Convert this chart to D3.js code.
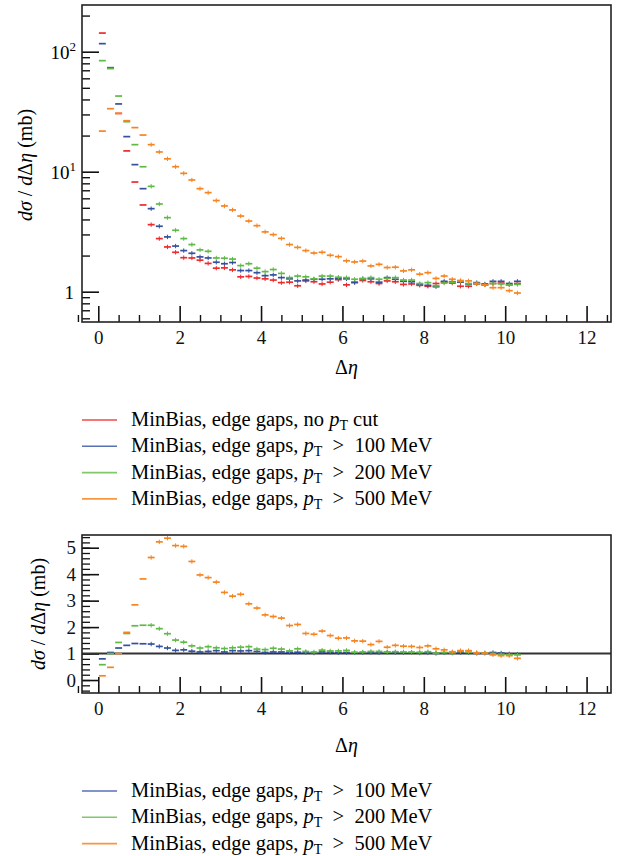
<!DOCTYPE html>
<html>
<head>
<meta charset="UTF-8">
<title>dsigma / d delta eta</title>
<script src="https://d3js.org/d3.v7.min.js"></script>
<style>
  body { margin: 0; background: #fff; }
</style>
</head>
<body>
<svg id="chart" width="631" height="856"></svg>
<script>
// bin centres in delta eta (bin width 0.2)
var etaBins = [0.1, 0.3, 0.5, 0.7, 0.9, 1.1, 1.3, 1.5, 1.7, 1.9, 2.1, 2.3, 2.5, 2.7, 2.9, 3.1, 3.3, 3.5, 3.7, 3.9,
  4.1, 4.3, 4.5, 4.7, 4.9, 5.1, 5.3, 5.5, 5.7, 5.9, 6.1, 6.3, 6.5, 6.7, 6.9, 7.1, 7.3, 7.5, 7.7, 7.9,
  8.1, 8.3, 8.5, 8.7, 8.9, 9.1, 9.3, 9.5, 9.7, 9.9, 10.1, 10.3];

// top panel: dsigma/d delta eta (mb)
var noCut = [143, 72.7, 30.6, 14.9, 8.2, 5.28, 3.62, 2.77, 2.36, 2.13, 1.92, 1.91, 1.83, 1.72, 1.57, 1.58, 1.52, 1.33, 1.34, 1.30,
  1.28, 1.25, 1.19, 1.20, 1.12, 1.23, 1.21, 1.16, 1.20, 1.26, 1.14, 1.20, 1.24, 1.21, 1.17, 1.23, 1.21, 1.15, 1.16, 1.13,
  1.11, 1.17, 1.20, 1.18, 1.11, 1.11, 1.16, 1.14, 1.17, 1.18, 1.14, 1.17];
var pt100 = [116.7, 73.6, 36.7, 19.6, 11.45, 7.22, 4.92, 3.51, 2.86, 2.40, 2.20, 2.09, 1.95, 1.91, 1.76, 1.71, 1.75, 1.50, 1.50, 1.44,
  1.36, 1.38, 1.31, 1.28, 1.23, 1.25, 1.27, 1.27, 1.28, 1.29, 1.28, 1.19, 1.28, 1.28, 1.20, 1.31, 1.27, 1.22, 1.21, 1.15,
  1.13, 1.10, 1.22, 1.21, 1.20, 1.16, 1.19, 1.16, 1.22, 1.22, 1.17, 1.22];
var pt200 = [84.2, 72.5, 42.7, 26.1, 16.8, 11.0, 7.55, 5.38, 4.14, 3.25, 2.77, 2.47, 2.23, 2.17, 1.91, 1.90, 1.87, 1.65, 1.71, 1.57,
  1.47, 1.53, 1.42, 1.31, 1.35, 1.33, 1.28, 1.35, 1.35, 1.32, 1.31, 1.27, 1.29, 1.31, 1.27, 1.29, 1.31, 1.25, 1.25, 1.17,
  1.19, 1.12, 1.18, 1.20, 1.22, 1.17, 1.17, 1.14, 1.17, 1.16, 1.14, 1.15];
var pt500 = [21.8, 33.5, 30.6, 26.6, 23.3, 20.2, 16.8, 14.6, 12.8, 11.0, 9.69, 8.53, 7.22, 6.69, 5.75, 5.18, 4.80, 4.27, 3.88, 3.55,
  3.15, 2.99, 2.78, 2.47, 2.34, 2.20, 2.10, 2.13, 2.01, 1.96, 1.81, 1.77, 1.80, 1.64, 1.69, 1.59, 1.60, 1.49, 1.52, 1.40,
  1.44, 1.29, 1.35, 1.27, 1.24, 1.23, 1.17, 1.14, 1.08, 1.08, 1.02, 0.975];

// bottom panel: ratio to the no-cut sample
var ratio100 = [0.80, 1.04, 1.21, 1.31, 1.38, 1.37, 1.36, 1.27, 1.21, 1.12, 1.14, 1.09, 1.06, 1.08, 1.11, 1.06, 1.11, 1.10, 1.11, 1.08,
  1.04, 1.06, 1.06, 1.05, 1.05, 1.04, 1.02, 1.06, 1.05, 1.03, 1.04, 1.03, 1.03, 1.04, 1.03, 1.05, 1.04, 1.03, 1.04, 1.02,
  1.03, 1.01, 1.03, 1.02, 1.04, 1.03, 1.01, 1.02, 1.04, 1.02, 0.99, 0.98];
var ratio200 = [0.58, 1.00, 1.42, 1.76, 2.05, 2.07, 2.07, 1.94, 1.75, 1.51, 1.43, 1.29, 1.21, 1.26, 1.22, 1.19, 1.22, 1.24, 1.26, 1.17,
  1.15, 1.20, 1.17, 1.10, 1.18, 1.08, 1.06, 1.13, 1.10, 1.10, 1.12, 1.05, 1.06, 1.08, 1.08, 1.05, 1.07, 1.06, 1.05, 1.05,
  1.07, 1.02, 1.04, 1.03, 1.08, 1.05, 1.03, 1.02, 1.00, 0.97, 0.95, 0.95];
var ratio500 = [0.16, 0.48, 1.00, 1.80, 2.84, 3.82, 4.63, 5.22, 5.36, 5.08, 5.05, 4.48, 3.97, 3.87, 3.70, 3.31, 3.17, 3.24, 2.88, 2.72,
  2.46, 2.40, 2.34, 2.06, 2.10, 1.76, 1.73, 1.85, 1.68, 1.58, 1.59, 1.48, 1.47, 1.34, 1.46, 1.24, 1.31, 1.28, 1.27, 1.23,
  1.29, 1.18, 1.14, 1.07, 1.11, 1.11, 1.03, 1.02, 0.95, 0.92, 0.92, 0.82];

var xMajor = [0, 2, 4, 6, 8, 10, 12];
var xMinor = [-0.5, 0.5, 1, 1.5, 2.5, 3, 3.5, 4.5, 5, 5.5, 6.5, 7, 7.5, 8.5, 9, 9.5, 10.5, 11, 11.5, 12.5];
var logMajor = [1, 10, 100];
var logMinor = [0.6, 0.7, 0.8, 0.9, 2, 3, 4, 5, 6, 7, 8, 9, 20, 30, 40, 50, 60, 70, 80, 90, 200];
var ratioMajor = [0, 1, 2, 3, 4, 5];

var legendTop = ["no cut", "100", "200", "500"];
var legendBottom = ["100", "200", "500"];

var colors = {"no cut": "#ee2a2a", "100": "#34519f", "200": "#5fba45", "500": "#f7841f"};
var legendColors = {"no cut": "#f04a4a", "100": "#5870b4", "200": "#80c86a", "500": "#f89640"};

var serif = "Liberation Serif";
var svg = d3.select("#chart").attr("font-family", serif);
var left = 82, right = 611;

var x = d3.scaleLinear().domain([-0.4, 12.6]).range([left, right]);

// ---------- top panel ----------
var top1 = 5, bot1 = 322;
var yTop = d3.scaleLog().domain([0.559, 245]).range([bot1, top1]);

// ---------- bottom panel ----------
var top2 = 535, bot2 = 693;
var yRatio = d3.scaleLinear().domain([-0.49, 5.48]).range([bot2, top2]);

function styleAxis(a, w) {
  a.attr("font-family", serif);
  a.select(".domain").remove();
  a.selectAll("line").attr("stroke", "#111").attr("stroke-width", w);
  a.selectAll("text").attr("font-size", 19).attr("fill", "#111").attr("font-family", serif);
}

function xAxes(g, yBottom) {
  g.append("g").attr("transform", "translate(0," + yBottom + ")")
    .call(d3.axisBottom(x).tickValues(xMajor).tickSize(-16).tickPadding(9).tickFormat(d3.format("d")))
    .call(styleAxis, 1.6);
  g.append("g").attr("transform", "translate(0," + yBottom + ")")
    .call(d3.axisBottom(x).tickValues(xMinor).tickSize(-7).tickFormat(""))
    .call(styleAxis, 1.4);
}

function frame(yT, yB) {
  svg.append("rect").attr("x", left).attr("y", yT).attr("width", right - left).attr("height", yB - yT)
    .attr("fill", "none").attr("stroke", "#222").attr("stroke-width", 1.6);
}

function drawSeries(g, y, values, color) {
  var pts = g.append("g").selectAll("g").data(etaBins.map(function (e, i) { return {eta: e, v: values[i]}; }))
    .enter().append("g");
  pts.append("line")
    .attr("x1", function (d) { return x(d.eta - 0.1) + 0.6; })
    .attr("x2", function (d) { return x(d.eta + 0.1) - 0.6; })
    .attr("y1", function (d) { return y(d.v); })
    .attr("y2", function (d) { return y(d.v); })
    .attr("stroke", color).attr("stroke-width", 1.7);
  pts.filter(function (d) { return d.eta > 1.2; }).append("line")
    .attr("x1", function (d) { return x(d.eta); })
    .attr("x2", function (d) { return x(d.eta); })
    .attr("y1", function (d) { return y(d.v) - 2.2; })
    .attr("y2", function (d) { return y(d.v) + 2.2; })
    .attr("stroke", color).attr("stroke-width", 1);
}

function yLabel(cx, cy) {
  var t = svg.append("text").attr("transform", "translate(" + cx + "," + cy + ") rotate(-90)")
    .attr("text-anchor", "middle").attr("font-size", 20);
  t.append("tspan").attr("font-style", "italic").text("dσ");
  t.append("tspan").text(" / ");
  t.append("tspan").attr("font-style", "italic").text("d");
  t.append("tspan").text("Δ");
  t.append("tspan").attr("font-style", "italic").text("η");
  t.append("tspan").text(" (mb)");
}

function xLabel(yBase) {
  var t = svg.append("text").attr("x", (left + right) / 2).attr("y", yBase)
    .attr("text-anchor", "middle").attr("font-size", 20);
  t.append("tspan").text("Δ");
  t.append("tspan").attr("font-style", "italic").text("η");
}

function legend(keys, y0) {
  keys.forEach(function (k, i) {
    var yy = y0 + i * 26.3;
    svg.append("line").attr("x1", 82).attr("x2", 117).attr("y1", yy).attr("y2", yy)
      .attr("stroke", legendColors[k]).attr("stroke-width", 1.6);
    var t = svg.append("text").attr("x", 131).attr("y", yy + 6).attr("font-size", 20.5)
      .attr("xml:space", "preserve");
    if (k === "no cut") {
      t.append("tspan").text("MinBias, edge gaps, no ");
      t.append("tspan").attr("font-style", "italic").text("p");
      t.append("tspan").attr("font-size", 14).attr("dy", 4).text("T");
      t.append("tspan").attr("dy", -4).text(" cut");
    } else {
      t.append("tspan").text("MinBias, edge gaps, ");
      t.append("tspan").attr("font-style", "italic").text("p");
      t.append("tspan").attr("font-size", 14).attr("dy", 4).text("T");
      t.append("tspan").attr("dy", -4).text("  >  " + k + " MeV");
    }
  });
}

// top panel axes
var gTop = svg.append("g");
xAxes(gTop, bot1);
gTop.append("g").attr("transform", "translate(" + left + ",0)")
  .call(d3.axisLeft(yTop).tickValues(logMajor).tickSize(-17).tickFormat(""))
  .call(styleAxis, 1.6);
gTop.append("g").attr("transform", "translate(" + left + ",0)")
  .call(d3.axisLeft(yTop).tickValues(logMinor).tickSize(-8).tickFormat(""))
  .call(styleAxis, 1.4);
logMajor.forEach(function (v) {
  var e = Math.round(Math.log10(v));
  var t = gTop.append("text").attr("x", e === 0 ? 74 : 76).attr("y", yTop(v) + 7)
    .attr("text-anchor", "end").attr("font-size", 19);
  if (e === 0) { t.text("1"); }
  else {
    t.append("tspan").text("10");
    t.append("tspan").attr("font-size", 13).attr("dy", -8).text(e);
  }
});

drawSeries(gTop, yTop, noCut, colors["no cut"]);
drawSeries(gTop, yTop, pt100, colors["100"]);
drawSeries(gTop, yTop, pt200, colors["200"]);
drawSeries(gTop, yTop, pt500, colors["500"]);
frame(top1, bot1);
yLabel(32, 165);
xLabel(374);
legend(legendTop, 420);

// bottom panel
var gBot = svg.append("g");
xAxes(gBot, bot2);
gBot.append("g").attr("transform", "translate(" + left + ",0)")
  .call(d3.axisLeft(yRatio).tickValues(ratioMajor).tickSize(-17).tickPadding(6).tickFormat(d3.format("d")))
  .call(styleAxis, 1.6);
gBot.append("g").attr("transform", "translate(" + left + ",0)")
  .call(d3.axisLeft(yRatio).tickValues(d3.range(-0.4, 5.45, 0.2)).tickSize(-8).tickFormat(""))
  .call(styleAxis, 1.3);

gBot.append("line").attr("x1", left).attr("x2", right).attr("y1", yRatio(1)).attr("y2", yRatio(1))
  .attr("stroke", "#333").attr("stroke-width", 2);
drawSeries(gBot, yRatio, ratio100, colors["100"]);
drawSeries(gBot, yRatio, ratio200, colors["200"]);
drawSeries(gBot, yRatio, ratio500, colors["500"]);
frame(top2, bot2);
yLabel(45, 614);
xLabel(752);
legend(legendBottom, 791);
</script>
</body>
</html>
